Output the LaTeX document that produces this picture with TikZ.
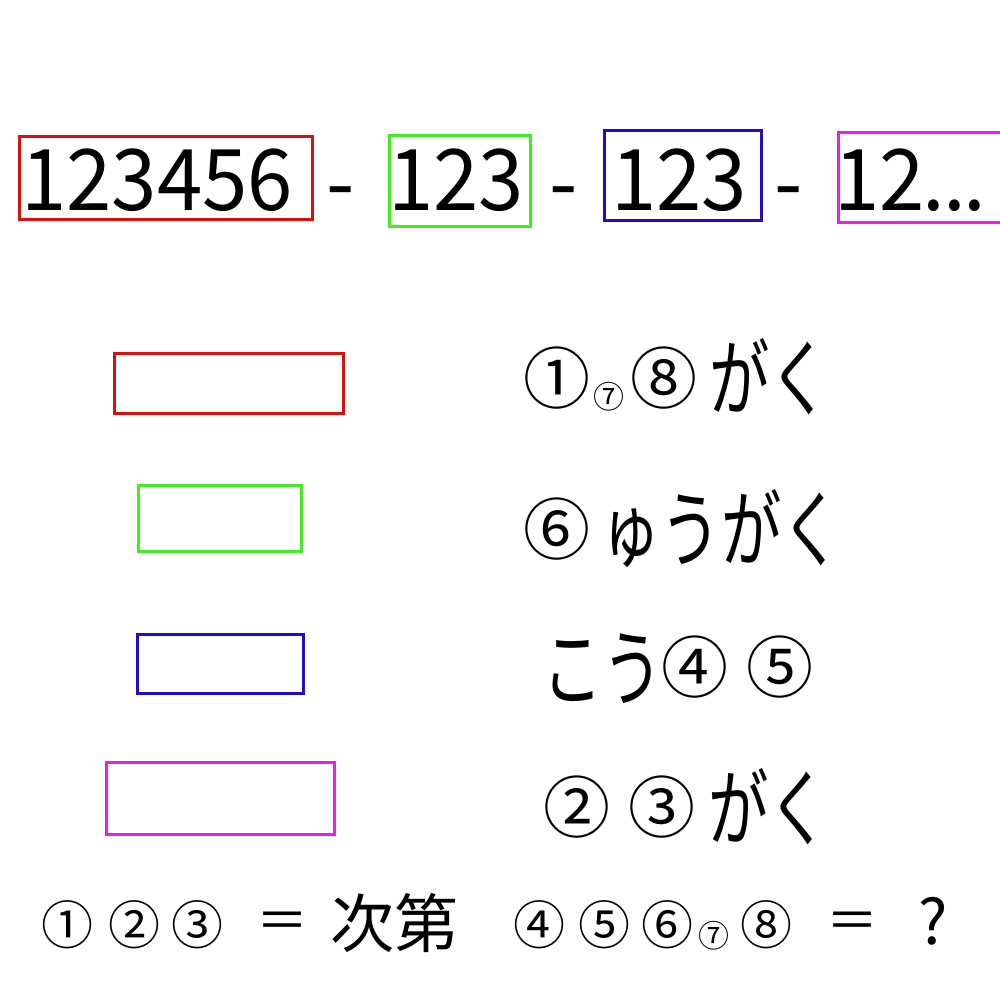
\documentclass[tikz,border=0pt]{standalone}
\usepackage{fontspec}
\setmainfont{Noto Sans CJK JP}
\definecolor{bred}{RGB}{225,12,12}
\definecolor{bgreen}{RGB}{64,238,30}
\definecolor{bblue}{RGB}{30,12,210}
\definecolor{bmag}{RGB}{236,28,236}
\tikzset{
  box/.style={draw=#1, line width=3pt},
  txt/.style={inner sep=0pt, anchor=west},
}
\newcommand{\fs}[1]{\fontsize{#1}{#1}\selectfont}
\newcommand{\topnum}[1]{\scalebox{0.96}[1]{\fs{85}#1}}
\newcommand{\kanatxt}[1]{\scalebox{0.72}[1]{\fs{84}#1}}
\newcommand{\circn}[1]{\fs{67}#1}
\newcommand{\circs}[1]{\fs{31}#1}
\newcommand{\circb}[1]{\fs{52}#1}
\begin{document}
\begin{tikzpicture}[x=1pt,y=-1pt]
\useasboundingbox[fill=white] (0,0) rectangle (1000,1000);
% top row
\draw[box=bred] (19,137) rectangle (312,220);
\draw[box=bgreen] (389,136) rectangle (530,227);
\draw[box=bblue] (604,131) rectangle (761,221);
\draw[box=bmag] (838,133) rectangle (1010,223);
\node[txt] (t1) at (21,180) {\topnum{123456}};
\node[txt] (d1) at (326,200) {\topnum{-}};
\node[txt] (t2) at (388,180) {\topnum{123}};
\node[txt] (d2) at (549,200) {\topnum{-}};
\node[txt] (t3) at (611,180) {\topnum{123}};
\node[txt] (d3) at (774,200) {\topnum{-}};
\node[txt] (t4) at (834,180) {\topnum{12\kern-2pt.\kern-2.5pt.\kern-2.5pt.}};
% left boxes
\draw[box=bred] (114,353) rectangle (343,413);
\draw[box=bgreen] (138,485) rectangle (301,551);
\draw[box=bblue] (137,634) rectangle (303,693);
\draw[box=bmag] (106,762) rectangle (334,834);
% right column
\node[txt] (r1a) at (523,378) {\circn{①}};
\node[txt] (r1b) at (593,397) {\circs{⑦}};
\node[txt] (r1c) at (630,378) {\circn{⑧}};
\node[txt] (r1d) at (709,377) {\kanatxt{がく}};
\node[txt] (r2a) at (523,529) {\circn{⑥}};
\node[txt] (r2b) at (600,528) {\kanatxt{ゅうがく}};
\node[txt] (r3a) at (542,669) {\kanatxt{こう}};
\node[txt] (r3b) at (661,667) {\circn{④}};
\node[txt] (r3c) at (746,667) {\circn{⑤}};
\node[txt] (r4a) at (543,807) {\circn{②}};
\node[txt] (r4b) at (628,807) {\circn{③}};
\node[txt] (r4c) at (708,807) {\kanatxt{がく}};
% bottom
\node[txt] (b1) at (41,925) {\circb{①}};
\node[txt] (b2) at (108,925) {\circb{②}};
\node[txt] (b3) at (171,925) {\circb{③}};
\node[txt] (b4) at (256,926) {\fs{52}＝};
\node[txt] (b5) at (330,923) {\fs{64}次第};
\node[txt] (b6) at (513,925) {\circb{④}};
\node[txt] (b7) at (578,925) {\circb{⑤}};
\node[txt] (b8) at (641,925) {\circb{⑥}};
\node[txt] (b9) at (698,936) {\circs{⑦}};
\node[txt] (b10) at (740,925) {\circb{⑧}};
\node[txt] (b11) at (826,926) {\fs{52}＝};
\node[txt] (b12) at (918,921) {\fs{62}?};
\end{tikzpicture}
\end{document}
